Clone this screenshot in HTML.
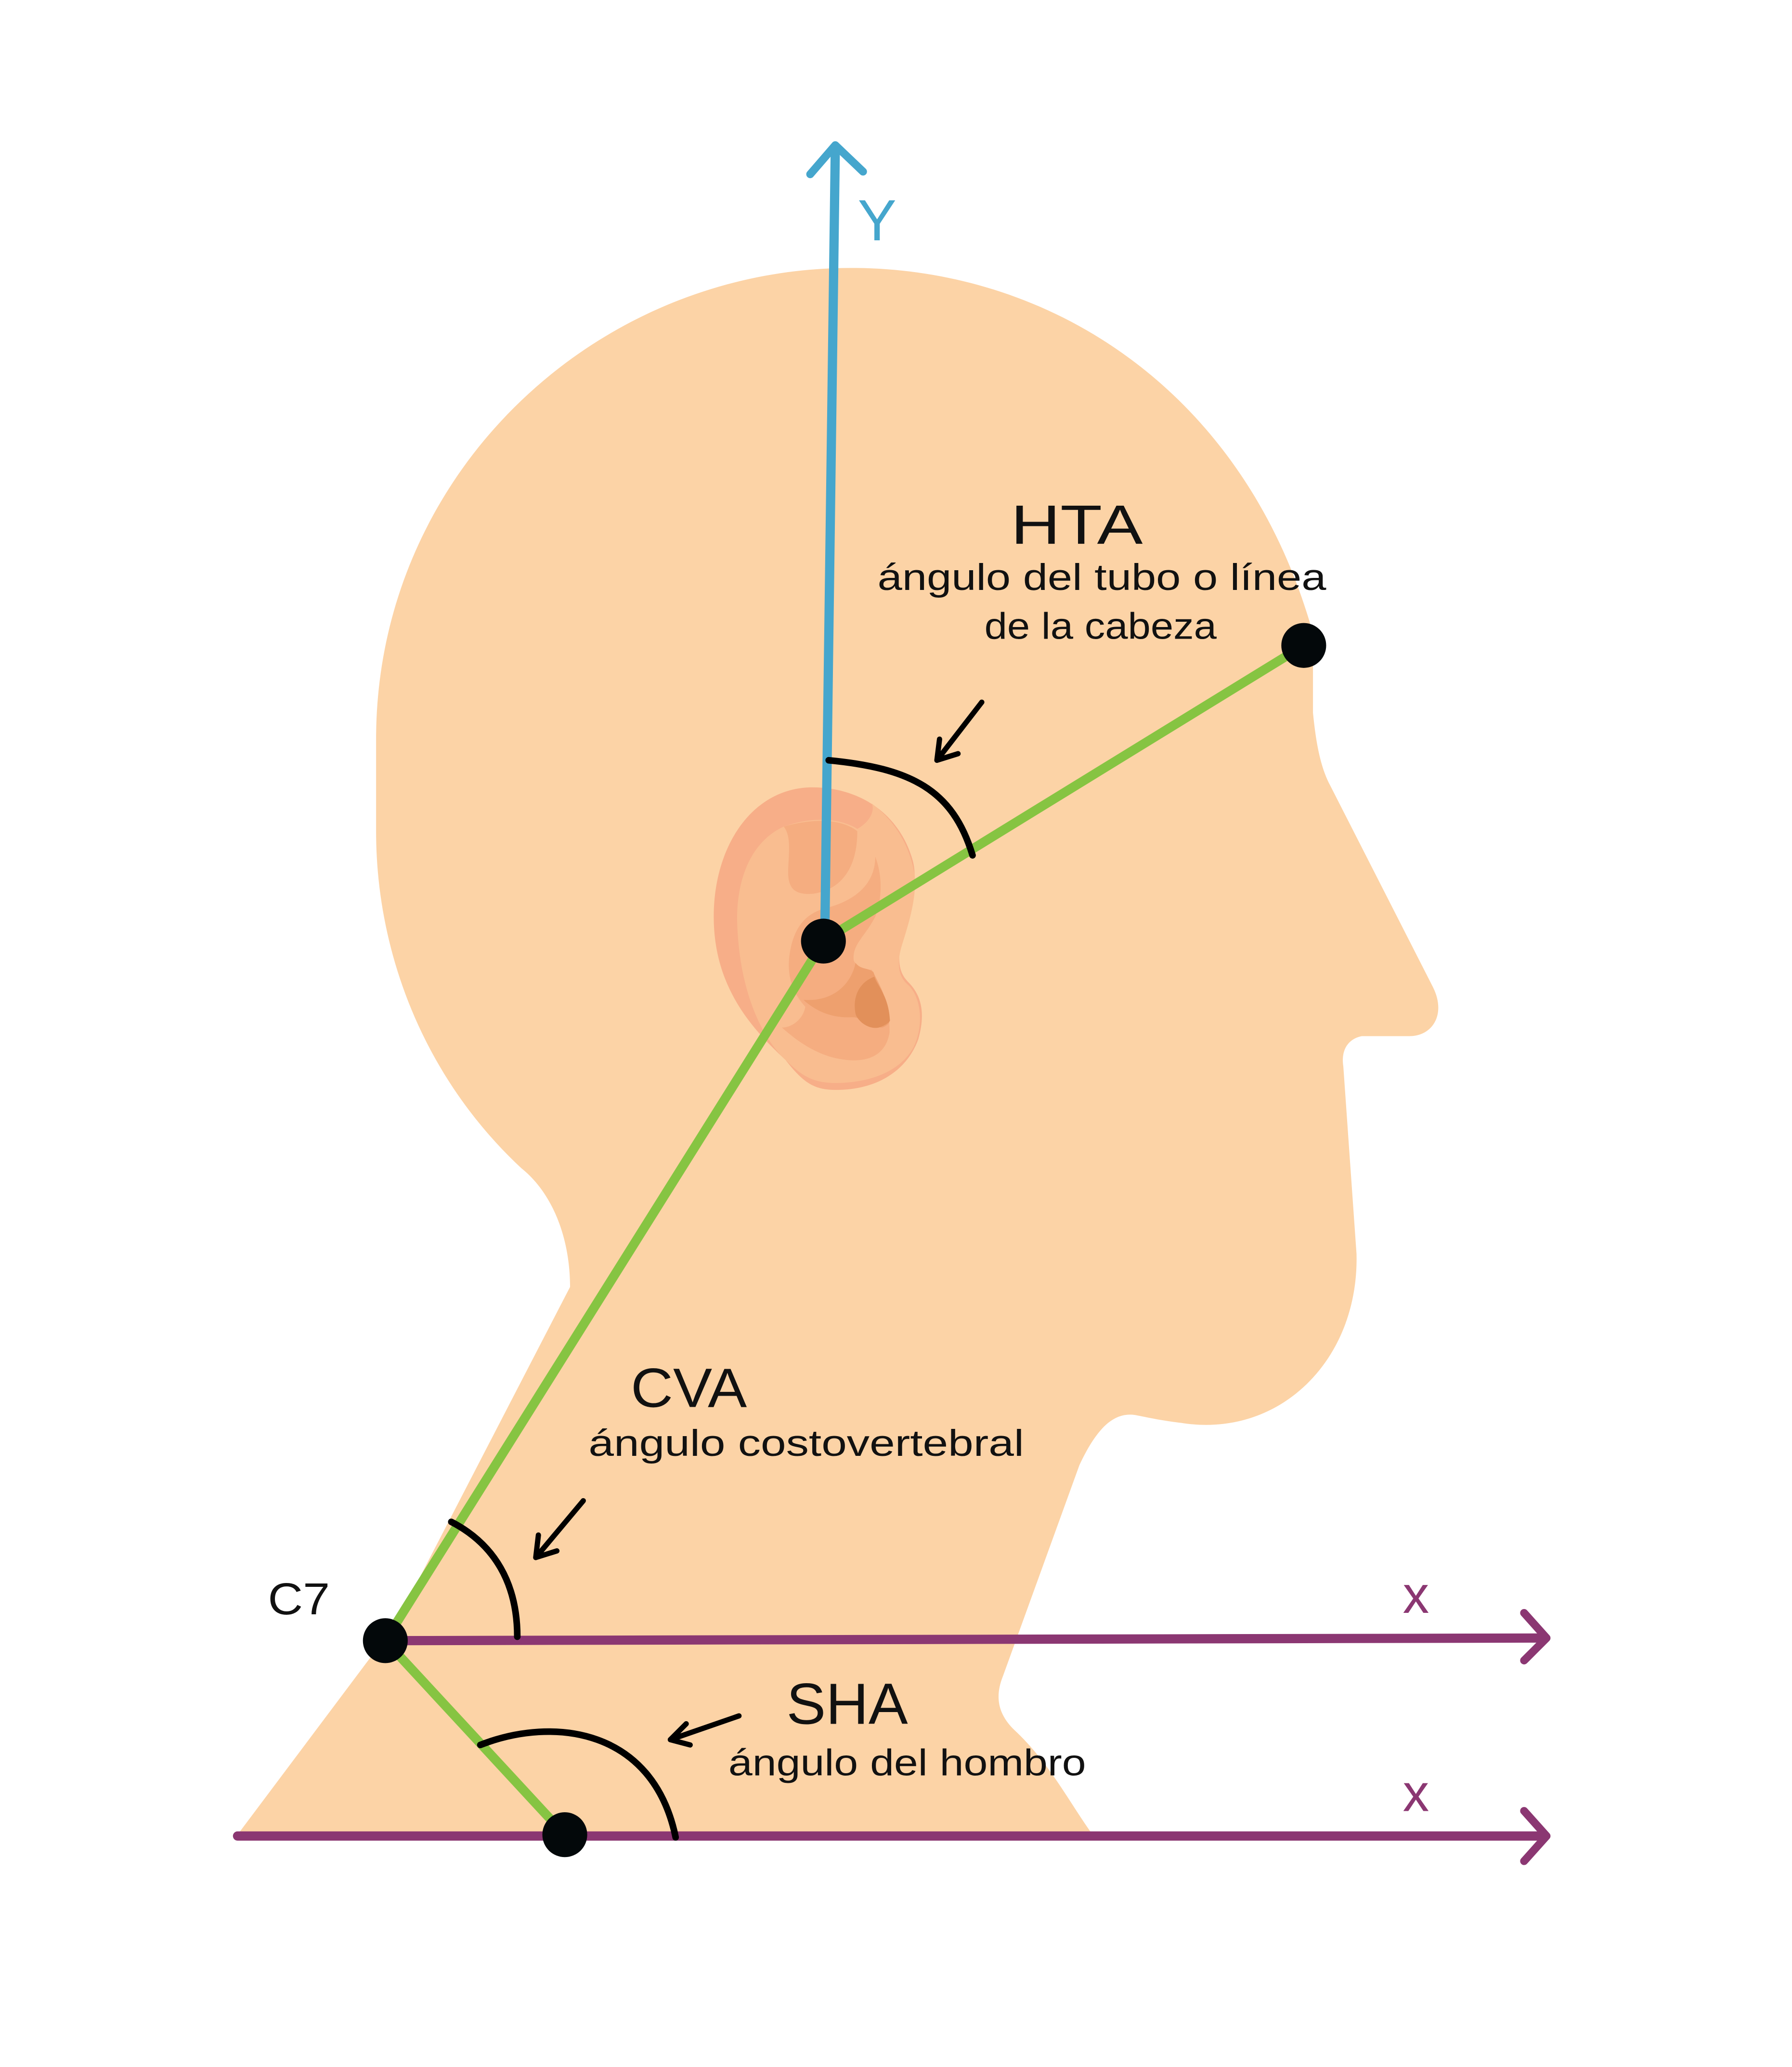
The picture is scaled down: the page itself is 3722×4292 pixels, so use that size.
<!DOCTYPE html>
<html><head><meta charset="utf-8"><style>
html,body{margin:0;padding:0;background:#fff;}
svg{display:block;}
text{font-family:"Comic Sans MS","Liberation Sans",sans-serif;fill:#111;}
</style></head><body>
<svg width="3722" height="4292" viewBox="0 0 1358 1566" xmlns="http://www.w3.org/2000/svg">
<rect width="1358" height="1566" fill="#fff"/>
<path fill="#fcd3a6" d="M180,1390 L300,1230 L432,975 C432,940 420,905 395,885 C320,815 285,720 285,630 L285,560 C285,360 450,203 645,203 C800,203 945,300 995,480 L995,540 C997,560 1000,580 1008,595 L1086,748 C1096,768 1086,785 1068,785 L1032,785 C1022,787 1016,795 1018,808 L1028,950 C1030,1030 970,1090 895,1078 C878,1076 866,1073 860,1072 C845,1070 832,1080 818,1110 L760,1270 C754,1285 756,1298 768,1310 C795,1335 810,1365 828,1390 Z"/>
<g transform="translate(530,565) scale(0.136,0.175)">
<path fill="#f7ae88" d="M630,180 C300,180 80,430 80,740 C80,1050 300,1230 480,1360 C580,1460 640,1490 760,1490 C1000,1490 1160,1400 1220,1270 C1260,1160 1240,1080 1160,1020 C1100,970 1100,900 1150,780 C1200,650 1210,560 1190,500 C1120,300 900,180 630,180 Z"/>
<path fill="#f9bd90" d="M470,350 C650,300 800,320 880,360 C950,330 980,280 960,250 C1080,320 1170,420 1200,560 C1210,660 1170,760 1130,860 C1090,960 1120,1010 1170,1040 C1240,1100 1250,1220 1190,1310 C1100,1430 900,1460 760,1460 C620,1460 560,1420 480,1360 C380,1290 220,1100 210,750 C210,560 300,410 470,350 Z"/>
<path fill="#f5ad80" d="M470,350 C650,310 800,320 880,370 C880,520 800,620 640,640 C520,650 490,610 495,530 C500,450 510,390 470,350 Z"/>
<path fill="#f5ad80" d="M980,480 C1020,560 1020,660 980,740 C920,830 850,860 860,930 C880,960 920,970 960,970 C1020,1050 1060,1120 1060,1240 C1040,1340 940,1370 820,1360 C680,1350 560,1290 460,1220 C520,1220 580,1180 590,1130 C520,1070 490,1000 500,920 C520,780 600,720 720,700 C900,660 980,580 980,480 Z"/>
<path fill="#eea06e" d="M870,940 C850,1020 760,1110 580,1100 C650,1150 740,1180 850,1175 C920,1175 960,1220 1020,1220 C1050,1210 1060,1200 1060,1190 C1050,1080 990,1030 970,980 C940,960 900,970 870,940 Z"/>
<path fill="#e2905a" d="M975,1000 C900,1020 850,1080 870,1160 C880,1190 940,1230 1000,1220 C1040,1210 1060,1195 1062,1190 C1055,1080 990,1040 975,1000 Z"/>
</g>
<g stroke-linecap="round" fill="none">
<line x1="625" y1="712" x2="633" y2="112" stroke="#45a6cd" stroke-width="7"/>
<polyline points="614,132 633,110 654,130" stroke="#45a6cd" stroke-width="6" stroke-linejoin="round"/>
<polyline points="988,489 625,712 292,1243 428,1390" stroke="#86c442" stroke-width="7" stroke-linejoin="round"/>
<line x1="292" y1="1243" x2="1170" y2="1241" stroke="#8b3772" stroke-width="7"/>
<polyline points="1155,1222 1172,1241 1155,1258" stroke="#8b3772" stroke-width="6" stroke-linejoin="round"/>
<line x1="180" y1="1391" x2="1170" y2="1391" stroke="#8b3772" stroke-width="7"/>
<polyline points="1155,1372 1172,1391 1155,1410" stroke="#8b3772" stroke-width="6" stroke-linejoin="round"/>
<path d="M628,576 C690,582 722,598 737,648" stroke="#000" stroke-width="5"/>
<path d="M342,1153 C375,1170 392,1200 392,1240" stroke="#000" stroke-width="5"/>
<path d="M364,1322 C420,1300 495,1310 512,1392" stroke="#000" stroke-width="5"/>
<path d="M744,532 L710,576 M710,576 L712,560 M710,576 L726,571" stroke="#000" stroke-width="4"/>
<path d="M442,1137 L406,1180 M406,1180 L408,1163 M406,1180 L422,1175" stroke="#000" stroke-width="4"/>
<path d="M560,1300 L508,1318 M508,1318 L520,1306 M508,1318 L523,1322" stroke="#000" stroke-width="4"/>
</g>
<circle cx="624" cy="713" r="17" fill="#03080a"/>
<circle cx="988" cy="489" r="17" fill="#03080a"/>
<circle cx="292" cy="1243" r="17" fill="#03080a"/>
<circle cx="428" cy="1390" r="17" fill="#03080a"/>
<text x="650" y="182" font-size="44" style="fill:#45a6cd">Y</text>
<text x="1063" y="1222" font-size="40" style="fill:#8b3772">x</text>
<text x="1063" y="1372" font-size="40" style="fill:#8b3772">x</text>
<text x="766" y="412" font-size="42" textLength="100" lengthAdjust="spacingAndGlyphs">HTA</text>
<text x="665" y="447" font-size="28" textLength="340" lengthAdjust="spacingAndGlyphs">ángulo del tubo o línea</text>
<text x="746" y="484" font-size="28" textLength="176" lengthAdjust="spacingAndGlyphs">de la cabeza</text>
<text x="478" y="1066" font-size="42" textLength="88" lengthAdjust="spacingAndGlyphs">CVA</text>
<text x="446" y="1103" font-size="28" textLength="330" lengthAdjust="spacingAndGlyphs">ángulo costovertebral</text>
<text x="203" y="1223" font-size="34" textLength="47" lengthAdjust="spacingAndGlyphs">C7</text>
<text x="596" y="1306" font-size="44" textLength="92" lengthAdjust="spacingAndGlyphs">SHA</text>
<text x="552" y="1345" font-size="28" textLength="271" lengthAdjust="spacingAndGlyphs">ángulo del hombro</text>
</svg>
</body></html>
